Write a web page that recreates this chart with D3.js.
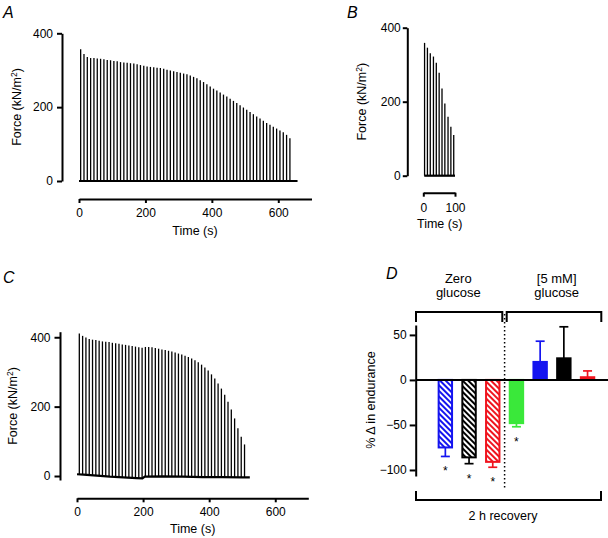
<!DOCTYPE html>
<html>
<head>
<meta charset="utf-8">
<script src="https://d3js.org/d3.v7.min.js"></script>
<style>
  body { margin: 0; background: #fff; }
  svg { display: block; font-family: "Liberation Sans", Arial, sans-serif; }
  .axis path, .axis line { stroke: #000; stroke-width: 2; }
  .axis text { font-size: 12px; fill: #000; font-family: "Liberation Sans", Arial, sans-serif; }
  .title { font-size: 12.5px; }
  .panel { font-size: 16px; font-style: italic; }
</style>
</head>
<body>
<script>
// ---- panel A: zero glucose, force per tetanus ----
var timeA = [5,15,25,35,45,55,65,75,85,95,105,115,125,135,145,155,165,175,185,195,
  205,215,225,235,245,255,265,275,285,295,305,315,325,335,345,355,365,375,385,395,
  405,415,425,435,445,455,465,475,485,495,505,515,525,535,545,555,565,575,585,595,
  605,615,625,635];
var forceA = [357,344,336,333,333,332,331,330,328,327,325,324,322,321,320,319,318,316,314,312,
  310,309,308,307,306,304,301,299,297,295,293,291,289,286,282,278,273,268,262,256,
  250,245,240,234,229,223,217,211,205,199,193,187,181,175,169,163,157,152,147,142,
  137,132,125,116];
var baseTimeA = [0, 658];
var baseForceA = [0, 0];

// ---- panel B ----
var timeB = [4,13,22,32,41,50,59,68,78,87,96];
var forceB = [359,346,331,322,305,278,236,195,159,132,110];
var baseTimeB = [3, 100];
var baseForceB = [0, 0];

// ---- panel C ----
var timeC = [7,17,27,37,47,57,67,77,87,97,107,117,127,137,147,157,167,177,187,197,
  207,217,227,237,247,257,267,277,287,297,307,317,327,337,347,357,367,377,387,397,
  407,417,427,437,447,457,467,477,487,497,507];
var forceC = [411,404,399,395,393,392,390,388,387,386,384,383,381,379,378,376,375,373,371,370,
  372,372,371,369,367,365,363,361,359,356,353,350,347,343,339,334,328,321,313,304,
  293,281,267,252,234,214,192,166,138,113,91];
var baseTimeC = [0,20,60,100,140,180,198,205,260,320,380,440,500,523];
var baseForceC = [5,4,1,-2,-4,-6,-7,-2,-1,-2,-3,-3,-4,-4];

var forceTicks = [0, 200, 400];
var timeTicksLong = [0, 200, 400, 600];
var timeTicksShort = [0, 100];

// ---- panel D ----
var dCats = ["zeroBlue", "zeroBlack", "zeroRed", "green", "glcBlue", "glcBlack", "glcRed"];
var dMeans = [-75, -86, -91, -48, 20, 24, 3];
var dErr = [10, 7, 6, 4, 23, 35, 7];
var dColors = ["#1414f0", "#000000", "#f0141e", "#3ae83a", "#1414f0", "#000000", "#f0141e"];
var dHatched = [true, true, true, false, false, false, false];
var dSig = [true, true, true, true, false, false, false];
var dTicks = [-100, -50, 0, 50];

var svg = d3.select("body").append("svg")
  .attr("width", 608)
  .attr("height", 538);

function forcePanel(c) {
  var g = svg.append("g");
  var x = d3.scaleLinear().domain(c.xDomain).range(c.xRange);
  var y = d3.scaleLinear().domain(c.yDomain).range(c.yRange);
  // resting force trace, used as the foot of each tetanus
  var base = d3.scaleLinear().domain(c.baseT).range(c.baseF).clamp(true);

  g.selectAll("line.bar")
    .data(c.times)
    .join("line")
    .attr("class", "bar")
    .attr("x1", function(t) { return x(t); })
    .attr("x2", function(t) { return x(t); })
    .attr("y1", function(t) { return y(base(t)); })
    .attr("y2", function(t, i) { return y(c.forces[i]); })
    .attr("stroke", "#000")
    .attr("stroke-width", 1.3);

  g.append("path")
    .datum(c.baseT.map(function(t, i) { return [t, c.baseF[i]]; }))
    .attr("d", d3.line().x(function(d) { return x(d[0]); }).y(function(d) { return y(d[1]); }))
    .attr("fill", "none")
    .attr("stroke", "#000")
    .attr("stroke-width", 2.2);

  g.append("g")
    .attr("class", "axis")
    .attr("transform", "translate(" + c.yAxisX + ",0)")
    .call(d3.axisLeft(y).tickValues(forceTicks).tickSize(c.yTick).tickPadding(c.yPad).tickSizeOuter(0));

  g.append("g")
    .attr("class", "axis")
    .attr("transform", "translate(0," + c.xAxisY + ")")
    .call(d3.axisBottom(x).tickValues(c.xTicks).tickSize(4).tickPadding(c.xPad).tickSizeOuter(0));

  g.append("text")
    .attr("class", "title")
    .attr("transform", "translate(" + c.yTitle[0] + "," + c.yTitle[1] + ") rotate(-90)")
    .attr("text-anchor", "middle")
    .attr("dy", "0.35em")
    .html("Force (kN/m<tspan dy='-4' font-size='8.5px'>2</tspan><tspan dy='4'>)</tspan>");

  g.append("text")
    .attr("class", "title")
    .attr("x", c.xTitle[0])
    .attr("y", c.xTitle[1])
    .attr("text-anchor", "middle")
    .text("Time (s)");

  g.append("text")
    .attr("class", "panel")
    .attr("x", c.label[0])
    .attr("y", c.label[1])
    .text(c.name);
}

forcePanel({
  name: "A", label: [3, 18],
  times: timeA, forces: forceA, baseT: baseTimeA, baseF: baseForceA,
  xDomain: [0, 700], xRange: [79, 311.5], yDomain: [0, 400], yRange: [181, 33.3],
  yAxisX: 62, xAxisY: 199, xTicks: timeTicksLong,
  yTick: 5, yPad: 4, xPad: 5,
  yTitle: [17, 107], xTitle: [195, 234.5]
});

forcePanel({
  name: "B", label: [347, 18],
  times: timeB, forces: forceB, baseT: baseTimeB, baseF: baseForceB,
  xDomain: [0, 100], xRange: [423.3, 455], yDomain: [0, 400], yRange: [175.7, 27.7],
  yAxisX: 407.3, xAxisY: 192.7, xTicks: timeTicksShort,
  yTick: 4.5, yPad: 2, xPad: 6.5,
  yTitle: [361.5, 101.7], xTitle: [439.7, 227.5]
});

forcePanel({
  name: "C", label: [3, 283],
  times: timeC, forces: forceC, baseT: baseTimeC, baseF: baseForceC,
  xDomain: [0, 700], xRange: [77, 308.3], yDomain: [-11.5, 416], yRange: [480, 331.7],
  yAxisX: 60, xAxisY: 498.3, xTicks: timeTicksLong,
  yTick: 5.5, yPad: 4, xPad: 5,
  yTitle: [13, 406], xTitle: [192.7, 532.5]
});

// ---- panel D: % change in endurance ----
var dy = d3.scaleLinear().domain([-106.7, 61]).range([476, 325]);
var dx = d3.scaleBand().domain(dCats).range([433.5, 599.4]).paddingInner(0.35).paddingOuter(0.175);
var bw = dx.bandwidth();

var defs = svg.append("defs");
dCats.forEach(function(c, i) {
  if (!dHatched[i]) return;
  var p = defs.append("pattern")
    .attr("id", "hatch-" + i)
    .attr("patternUnits", "userSpaceOnUse")
    .attr("width", 4)
    .attr("height", 4)
    .attr("patternTransform", "rotate(-45)");
  p.append("rect").attr("width", 4).attr("height", 4).attr("fill", "#fff");
  p.append("line").attr("x1", 2).attr("x2", 2).attr("y1", 0).attr("y2", 4)
    .attr("stroke", dColors[i]).attr("stroke-width", 2);
});

var gd = svg.append("g");

// error bars (one-sided, away from zero)
dCats.forEach(function(c, i) {
  var v = dMeans[i], e = v < 0 ? v - dErr[i] : v + dErr[i];
  var cx = dx(c) + bw / 2;
  gd.append("line")
    .attr("x1", cx).attr("x2", cx)
    .attr("y1", dy(v)).attr("y2", dy(e))
    .attr("stroke", dColors[i]).attr("stroke-width", 1.7);
  gd.append("line")
    .attr("x1", cx - 4.5).attr("x2", cx + 4.5)
    .attr("y1", dy(e)).attr("y2", dy(e))
    .attr("stroke", dColors[i]).attr("stroke-width", 1.7);
  if (dSig[i]) {
    gd.append("text")
      .attr("x", cx)
      .attr("y", dy(e) + 19)
      .attr("text-anchor", "middle")
      .attr("font-size", "12px")
      .text("*");
  }
});

gd.selectAll("rect.dbar")
  .data(dCats)
  .join("rect")
  .attr("class", "dbar")
  .attr("x", function(c) { return dx(c) + 1; })
  .attr("width", bw - 2)
  .attr("y", function(c, i) { return Math.min(dy(dMeans[i]), dy(0)); })
  .attr("height", function(c, i) { return Math.abs(dy(dMeans[i]) - dy(0)); })
  .attr("fill", function(c, i) { return dHatched[i] ? "url(#hatch-" + i + ")" : dColors[i]; })
  .attr("stroke", function(c, i) { return dColors[i]; })
  .attr("stroke-width", 2);

// zero line across the panel
gd.append("line")
  .attr("x1", 416).attr("x2", 608)
  .attr("y1", dy(0)).attr("y2", dy(0))
  .attr("stroke", "#000").attr("stroke-width", 2);

gd.append("g")
  .attr("class", "axis")
  .attr("transform", "translate(415.7,0)")
  .call(d3.axisLeft(dy).tickValues(dTicks).tickSize(6).tickPadding(3).tickSizeOuter(0));

// dotted separator between the groups
var sepX = (dx("zeroRed") + bw + dx("green")) / 2;
gd.append("line")
  .attr("x1", sepX).attr("x2", sepX)
  .attr("y1", 314).attr("y2", 490)
  .attr("stroke", "#000").attr("stroke-width", 1.5)
  .attr("stroke-dasharray", "1.5,2.5");

// brackets
var bracket = function(d) {
  gd.append("path").attr("d", d).attr("fill", "none").attr("stroke", "#000").attr("stroke-width", 2);
};
bracket("M416,322V312H502.3V322");
bracket("M506.7,322V312H601.3V322");
bracket("M416,491V500H601V491");

var dText = function(x, y, s, size) {
  gd.append("text").attr("x", x).attr("y", y).attr("text-anchor", "middle")
    .attr("font-size", size).text(s);
};
dText(458.3, 282.7, "Zero", "13px");
dText(458.3, 297, "glucose", "13px");
dText(556.7, 282.7, "[5 mM]", "13px");
dText(556.7, 297, "glucose", "13px");
dText(503, 520, "2 h recovery", "12.5px");

gd.append("text")
  .attr("class", "title")
  .attr("transform", "translate(371,400) rotate(-90)")
  .attr("text-anchor", "middle")
  .attr("dy", "0.35em")
  .text("% \u0394 in endurance");

gd.append("text")
  .attr("class", "panel")
  .attr("x", 386)
  .attr("y", 279)
  .text("D");
</script>
</body>
</html>
